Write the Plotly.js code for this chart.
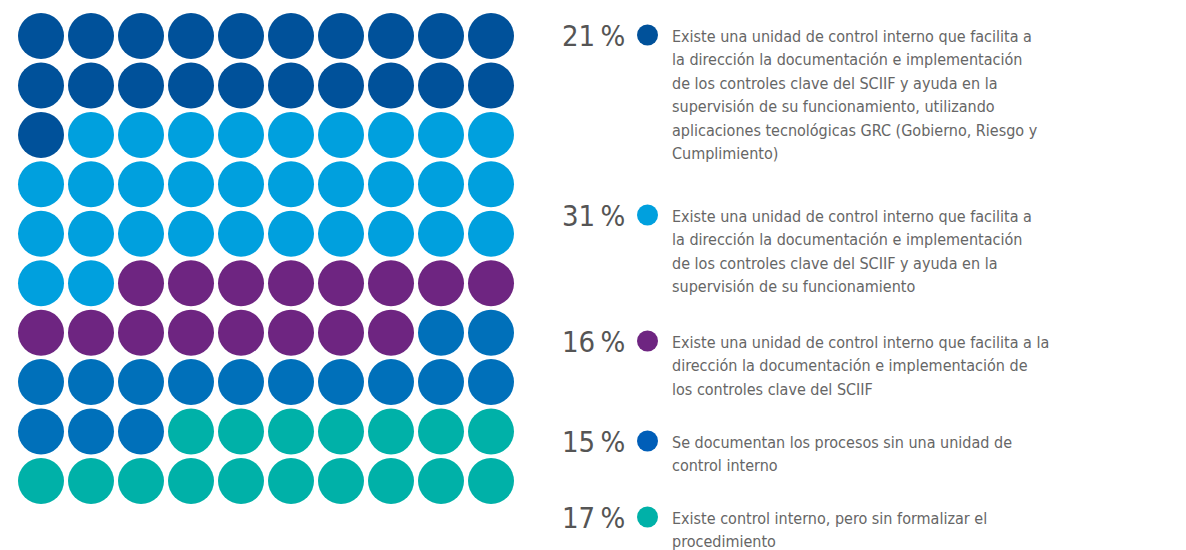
<!DOCTYPE html>
<html>
<head>
<meta charset="utf-8">
<script src="https://cdn.plot.ly/plotly-3.0.1.min.js"></script>
<style>
  html, body { margin: 0; padding: 0; background: #fff; }
  #chart { width: 1186px; height: 550px; }
</style>
</head>
<body>
<div id="chart"></div>
<script>
// waffle data: share (in %) of each answer, 1 dot = 1%
const shares = [21, 31, 16, 15, 17];
const colors = ['#00519A', '#00A0DE', '#6E2581', '#0070BA', '#00B1A8'];
const dotColors = ['#00519A', '#00A0DE', '#6E2581', '#005EB8', '#00B1A8'];
const descriptions = [
    ['Existe una unidad de control interno que facilita a',
     'la dirección la documentación e implementación',
     'de los controles clave del SCIIF y ayuda en la',
     'supervisión de su funcionamiento, utilizando',
     'aplicaciones tecnológicas GRC (Gobierno, Riesgo y',
     'Cumplimiento)'],
    ['Existe una unidad de control interno que facilita a',
     'la dirección la documentación e implementación',
     'de los controles clave del SCIIF y ayuda en la',
     'supervisión de su funcionamiento'],
    ['Existe una unidad de control interno que facilita a la',
     'dirección la documentación e implementación de',
     'los controles clave del SCIIF'],
    ['Se documentan los procesos sin una unidad de',
     'control interno'],
    ['Existe control interno, pero sin formalizar el',
     'procedimiento']
];

// legend layout (px from top of the page)
const legendRowY = [35, 215, 341, 441, 517];
const LINE_H = 23.5;
const FONT = 'Liberation Sans Narrow, DejaVu Sans Condensed, Roboto, sans-serif';
const W = 1186, H = 550;
const COLS = 10;

// grid traces
const traces = [];
let idx = 0;
shares.forEach((n, k) => {
    const xs = [], ys = [];
    for (let i = 0; i < n; i++, idx++) {
        xs.push(idx % COLS);
        ys.push(Math.floor(idx / COLS));
    }
    traces.push({
        x: xs, y: ys,
        type: 'scatter', mode: 'markers',
        cliponaxis: false,
        marker: { size: 46, color: colors[k], line: { width: 0 } },
        hoverinfo: 'skip',
        showlegend: false
    });
});

// legend dots
traces.push({
    x: shares.map(() => 0),
    y: legendRowY,
    xaxis: 'x2', yaxis: 'y2',
    type: 'scatter', mode: 'markers',
    cliponaxis: false,
    marker: { size: 21, color: dotColors, line: { width: 0 } },
    hoverinfo: 'skip',
    showlegend: false
});

const annotations = [];
shares.forEach((s, k) => {
    annotations.push({
        xref: 'paper', yref: 'y2',
        x: 627 / W, y: legendRowY[k] + 1,
        xanchor: 'right', yanchor: 'middle',
        text: s + '\u2009%',
        showarrow: false,
        font: { family: FONT, size: 29, color: '#555555' }
    });
    descriptions[k].forEach((line, j) => {
        annotations.push({
            xref: 'paper', yref: 'y2',
            x: 670 / W, y: legendRowY[k] + j * LINE_H + 1,
            xanchor: 'left', yanchor: 'middle',
            align: 'left',
            text: line,
            showarrow: false,
            font: { family: FONT, size: 16, color: '#666666' }
        });
    });
});

const hidden = { visible: false, fixedrange: true };
const layout = {
    width: W, height: H,
    margin: { l: 0, r: 0, t: 0, b: 0 },
    paper_bgcolor: '#ffffff',
    plot_bgcolor: 'rgba(0,0,0,0)',
    xaxis: Object.assign({ domain: [41 / W, 491 / W], range: [0, 9] }, hidden),
    yaxis: Object.assign({ domain: [(H - 481) / H, (H - 36) / H], range: [9, 0] }, hidden),
    xaxis2: Object.assign({ domain: [637 / W, 658 / W], range: [-1, 1], anchor: 'y2' }, hidden),
    yaxis2: Object.assign({ domain: [0, 1], range: [H, 0], anchor: 'x2' }, hidden),
    annotations: annotations,
    showlegend: false
};

Plotly.newPlot('chart', traces, layout, { displayModeBar: false, staticPlot: true });
</script>
</body>
</html>
